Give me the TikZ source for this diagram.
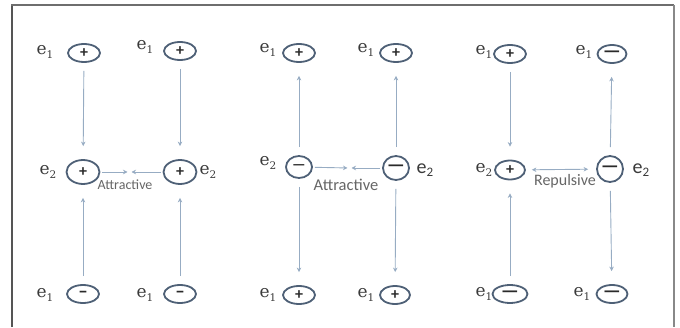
\documentclass[tikz,border=0pt]{standalone}
\usepackage{fontspec}
\setmainfont{DejaVu Serif}
\newfontfamily\calfont{Carlito}
\usetikzlibrary{shapes.geometric,arrows.meta}
\definecolor{cstroke}{HTML}{4E6076}
\definecolor{csign}{HTML}{2A2A2A}
\definecolor{labc}{HTML}{3A3A3A}
\definecolor{arrc}{HTML}{97ACC3}
\definecolor{txtc}{HTML}{666666}
\definecolor{framec}{HTML}{555555}
\newcommand\esub[1]{\raisebox{-0.35ex}{\fontsize{10.5}{10.5}\selectfont #1}}
\newcommand\csub[1]{\raisebox{-0.3ex}{\fontsize{13}{13}\selectfont #1}}
\newcommand\lmin{{\fontsize{20}{20}\selectfont —}}
\newcommand\mmin{{\fontsize{15}{15}\selectfont —}}
\newcommand\smin{{\fontsize{19}{19}\selectfont –}}
\begin{document}
\begin{tikzpicture}[x=1pt,y=1pt,
  chg/.style={ellipse, draw=cstroke, line width=1.8pt, inner sep=0pt,
    minimum width=32pt, minimum height=18pt, text=csign,
    font=\calfont\bfseries\fontsize{16}{16}\selectfont},
  big/.style={minimum width=33pt, minimum height=24pt},
  lab/.style={text=labc, inner sep=0pt, font=\fontsize{17}{17}\selectfont},
  clab/.style={text=labc, inner sep=0pt, font=\calfont\fontsize{20}{20}\selectfont},
  vconn/.style={draw=arrc, line width=0.9pt, -{Stealth[length=4.5pt,width=4.5pt]},
    shorten <=8pt, shorten >=13pt},
  hconn/.style={draw=arrc, line width=0.9pt, -{Stealth[length=4.5pt,width=4.5pt]},
    shorten <=2pt, shorten >=2pt},
  dconn/.style={draw=arrc, line width=0.9pt, {Stealth[length=4.5pt,width=4.5pt]}-{Stealth[length=4.5pt,width=4.5pt]},
    shorten <=6pt, shorten >=8pt},
  force/.style={text=txtc, inner sep=0pt, font=\calfont\fontsize{#1}{#1}\selectfont},
]
\useasboundingbox (0,0) rectangle (680,327);
% frame
\draw[framec, line width=2pt] (12,0) -- (12,322);
\draw[framec!85, line width=1.5pt] (11,322) -- (674,322);
\draw[framec!70, line width=1.2pt] (674,322) -- (674,0);

% ---------- panel 1 ----------
\node[chg] (A1) at (84,274) {+};
\node[chg] (A2) at (180,276) {+};
\node[chg,big] (A3) at (83,155) {+};
\node[chg,big] (A4) at (180,155) {+};
\node[chg] (A5) at (83,33) {\smin};
\node[chg] (A6) at (180,33) {\smin};
\node[lab] (la1) at (45,275) {e\esub{1}};
\node[lab] (la2) at (145,280) {e\esub{1}};
\node[lab] (la3) at (48,155) {e\esub{2}};
\node[lab] (la4) at (208,155) {e\esub{2}};
\node[lab] (la5) at (45,32) {e\esub{1}};
\node[lab] (la6) at (145,32) {e\esub{1}};
\draw[vconn] (A1) -- (A3);
\draw[vconn] (A2) -- (A4);
\draw[vconn] (A5) -- (A3);
\draw[vconn] (A6) -- (A4);
\coordinate (m1) at (129.5,155);
\draw[hconn] (A3) -- (m1);
\draw[hconn] (A4) -- (m1);
\node[force=14] (fa) at (125,142) {Attractive};

% ---------- panel 2 ----------
\node[chg] (B1) at (299,274) {+};
\node[chg] (B2) at (396,274) {+};
\node[chg,minimum width=26pt,minimum height=22pt] (B3) at (299,160) {\mmin};
\node[chg,minimum width=26pt,minimum height=24pt] (B4) at (396,159) {\lmin};
\node[chg] (B5) at (299,32) {+};
\node[chg,minimum width=30pt] (B6) at (395,32) {+};
\node[lab] (lb1) at (268,277) {e\esub{1}};
\node[lab] (lb2) at (366,277) {e\esub{1}};
\node[lab] (lb3) at (268,164) {e\esub{2}};
\node[clab] (lb4) at (425,157) {e\csub{2}};
\node[lab] (lb5) at (268,32) {e\esub{1}};
\node[lab] (lb6) at (366,32) {e\esub{1}};
\draw[vconn] (B3) -- (B1);
\draw[vconn] (B3) -- (B5);
\draw[vconn] (B4) -- (B2);
\draw[vconn] (B4) -- (B6);
\coordinate (m2) at (349.5,159);
\draw[hconn] (B3) -- (m2);
\draw[hconn] (B4) -- (m2);
\node[force=16.5] (fb) at (346,142) {Attractive};

% ---------- panel 3 ----------
\node[chg] (C1) at (510,273) {+};
\node[chg,minimum width=29pt] (C2) at (612,273) {\lmin};
\node[chg,minimum width=30pt,minimum height=19pt] (C3) at (510,157) {+};
\node[chg,minimum width=26pt,minimum height=26pt] (C4) at (610,158) {\lmin};
\node[chg,minimum width=35pt] (C5) at (510,33) {\lmin};
\node[chg,minimum width=31pt] (C6) at (612,33) {\lmin};
\node[lab] (lc1) at (484,275) {e\esub{1}};
\node[lab] (lc2) at (584,275) {e\esub{1}};
\node[lab] (lc3) at (484,157) {e\esub{2}};
\node[clab] (lc4) at (641,157) {e\csub{2}};
\node[lab] (lc5) at (484,33) {e\esub{1}};
\node[lab] (lc6) at (582,33) {e\esub{1}};
\draw[vconn] (C1) -- (C3);
\draw[vconn] (C5) -- (C3);
\draw[vconn] (C4) -- (C2);
\draw[vconn] (C4) -- (C6);
\draw[dconn] (C3) -- (C4);
\node[force=16] (fc) at (565,146) {Repulsive};
\end{tikzpicture}
\end{document}
